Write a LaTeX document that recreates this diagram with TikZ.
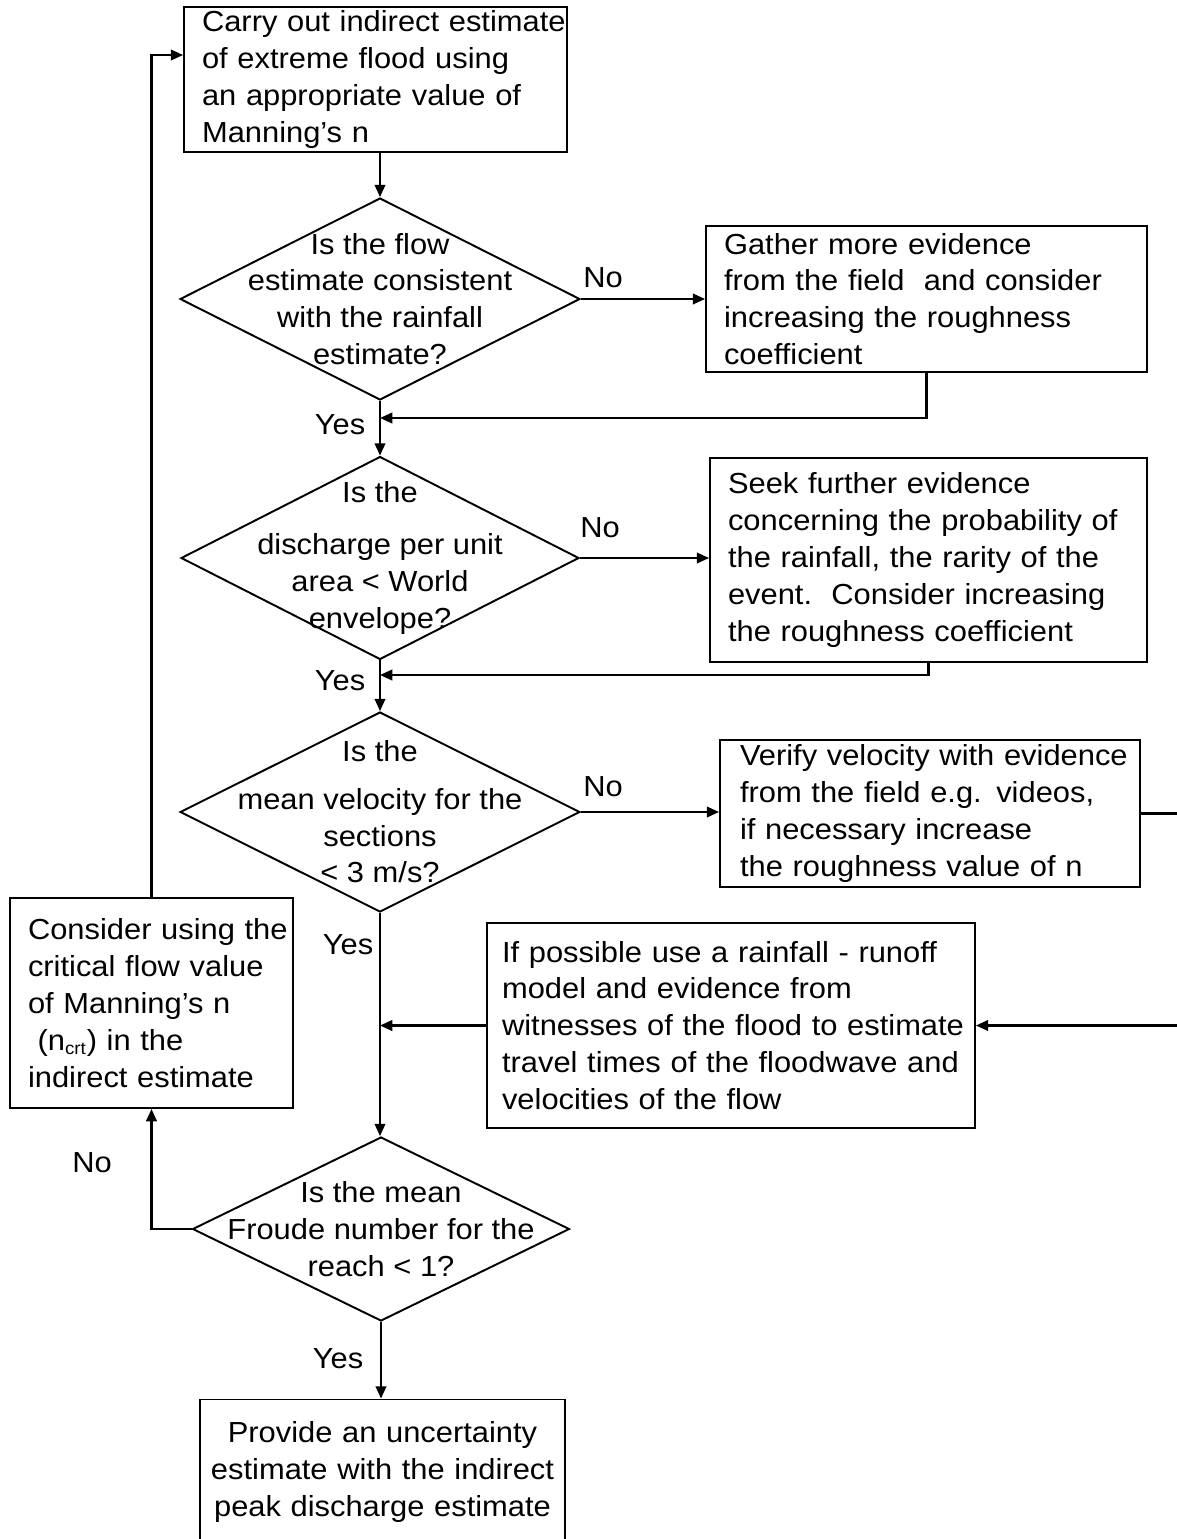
\documentclass[tikz,border=0pt]{standalone}
\usepackage{fontspec}
\setmainfont[FakeStretch=1.065]{Liberation Sans}
\usetikzlibrary{arrows.meta, shapes.geometric}

\begin{document}
\begin{tikzpicture}[
    x=0.02cm, y=-0.02cm,
    font=\fontsize{16.5}{21}\selectfont,
    frame/.style={draw, rectangle, line width=1.1pt, inner xsep=0.06cm, inner ysep=0pt},
    box/.style={frame, align=left,
        execute at begin node={\leftskip=#1\rightskip=0pt plus 1fil minus 3cm}},
    box/.default=0.3cm,
    cbox/.style={frame, align=center},
    dec/.style={draw, diamond, line width=1.1pt, align=center, inner xsep=-3.6cm, inner ysep=-1.6cm},
    arr/.style={-{Triangle[length=7pt,width=6pt]}, line width=1.3pt},
    lbl/.style={inner sep=0pt}
]
    \clip (0,0) rectangle (1177,1539);

    % boxes
    \node[box, text width=7.54cm, minimum height=2.9cm] (carry) at (375.5,79.5) {Carry out indirect estimate\\of extreme flood using\\an appropriate value of\\Manning's n};
    \node[box, text width=8.7cm, minimum height=2.92cm] (gather) at (926.5,299) {Gather more evidence\\from the field\ \ and consider\\increasing the roughness\\coefficient};
    \node[box, text width=8.62cm, minimum height=4.08cm] (seek) at (928.5,560) {Seek further evidence\\concerning the probability of\\the rainfall, the rarity of the\\event.\ \ Consider increasing\\the roughness coefficient};
    \node[box=0.34cm, text width=8.28cm, minimum height=2.94cm] (verify) at (930,813.5) {Verify velocity with evidence\\from the field e.g. videos,\\if necessary increase\\the roughness value of n};
    \node[box=0.24cm, text width=9.64cm, minimum height=4.1cm] (runoff) at (731,1025.5) {If possible use a rainfall - runoff\\model and evidence from\\witnesses of the flood to estimate\\travel times of the floodwave and\\velocities of the flow};
    \node[box, text width=5.54cm, minimum height=4.2cm] (ncrit) at (151.5,1003) {Consider using the\\critical flow value\\of Manning's n\\\ (n\textsubscript{\fontsize{10}{10}\selectfont crt}) in the\\indirect estimate};
    \node[cbox, text width=7.18cm, minimum height=2.9cm] (provide) at (382.5,1472) {Provide an uncertainty\\estimate with the indirect\\peak discharge estimate};

    % decisions
    \node[dec, minimum width=8cm, minimum height=4.04cm] (flow) at (380,299) {Is the flow\\estimate consistent\\with the rainfall\\estimate?};
    \node[dec, minimum width=7.96cm, minimum height=4.06cm] (world) at (380,558) {Is the\\[9pt]discharge per unit\\area < World\\envelope?};
    \node[dec, minimum width=8cm, minimum height=4cm] (vel) at (380,812) {Is the\\[6pt]mean velocity for the\\sections\\< 3 m/s?};
    \node[dec, minimum width=7.54cm, minimum height=3.68cm] (froude) at (381,1229) {Is the mean\\Froude number for the\\reach < 1?};

    % labels
    \node[lbl] (no1) at (603,278) {No};
    \node[lbl] (no2) at (600,528) {No};
    \node[lbl] (no3) at (603,787) {No};
    \node[lbl] (no4) at (92,1163) {No};
    \node[lbl] (yes1) at (340,425) {Yes};
    \node[lbl] (yes2) at (340,681) {Yes};
    \node[lbl] (yes3) at (348,945) {Yes};
    \node[lbl] (yes4) at (338,1359) {Yes};

    % junctions
    \coordinate (j1) at (flow.south |- 0,418);
    \coordinate (j2) at (world.south |- 0,675);
    \coordinate (edge) at (1190,813.5);

    % connectors
    \draw[arr] (carry.south -| flow.north) -- (flow.north);
    \draw[arr] (flow.east) -- (flow.east -| gather.west);
    \draw[arr] (gather.south) |- (j1);
    \draw[arr] (flow.south) -- (world.north);
    \draw[arr] (world.east) -- (world.east -| seek.west);
    \draw[arr] (seek.south) |- (j2);
    \draw[arr] (world.south) -- (vel.north);
    \draw[arr] (vel.east) -- (vel.east -| verify.west);
    \draw[arr] (verify.east) -- (edge) |- (runoff.east);
    \draw[arr] (runoff.west) -- (vel.south |- runoff.west);
    \draw[arr] (vel.south) -- (vel.south |- froude.north);
    \draw[arr] (froude.west) -| (ncrit.south);
    \draw[arr] (ncrit.north) |- ([yshift=0.49cm]carry.west);
    \draw[arr] (froude.south) -- (froude.south |- provide.north);
\end{tikzpicture}
\end{document}
